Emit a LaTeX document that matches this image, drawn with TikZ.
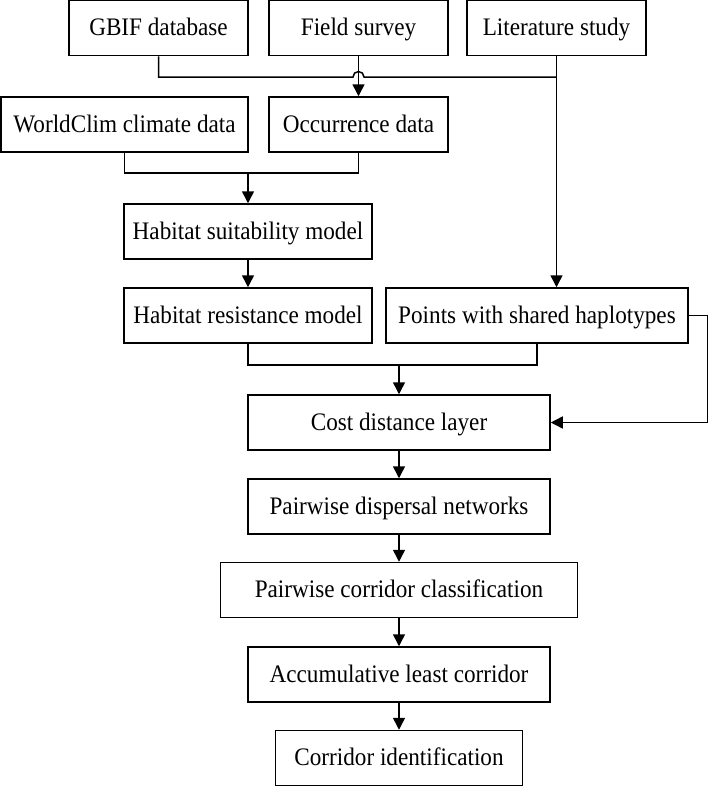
\documentclass[tikz,border=0pt]{standalone}
\usepackage{fontspec}
\setmainfont{Liberation Serif}[FakeStretch=0.92]
\usetikzlibrary{arrows.meta}
\begin{document}
\begin{tikzpicture}[x=1pt, y=-1pt, line width=1.5pt, line join=miter, >={Triangle[length=12pt,width=12pt]}]
	\tikzset{box/.style={draw, minimum height=55pt, inner sep=0pt, text height=15.5pt, text depth=0pt, font=\fontsize{25.2}{29}\selectfont}}
	\useasboundingbox (0,0) rectangle (709,787);
	% sources
	\node[box, minimum width=179pt] (gbif) at (158.5,28) {GBIF database};
	\node[box, minimum width=179pt] (field) at (358.5,28) {Field survey};
	\node[box, minimum width=179pt] (lit) at (556.5,28) {Literature study};
	\node[box, minimum width=247pt] (wc) at (124.5,124.5) {WorldClim climate data};
	\node[box, minimum width=179pt] (occ) at (358.5,124.5) {Occurrence data};
	% models
	\node[box, minimum width=248pt] (suit) at (248,231.5) {Habitat suitability model};
	\node[box, minimum width=248pt] (res) at (248,315.5) {Habitat resistance model};
	\node[box, minimum width=302pt] (pts) at (537,315.5) {Points with shared haplotypes};
	% corridor chain
	\node[box, minimum width=302pt] (cost) at (399,422.5) {Cost distance layer};
	\node[box, minimum width=302pt] (disp) at (399,506.5) {Pairwise dispersal networks};
	\node[box, minimum width=357pt] (cls) at (399,590) {Pairwise corridor classification};
	\node[box, minimum width=302pt] (acc) at (399,674.5) {Accumulative least corridor};
	\node[box, minimum width=247pt] (cid) at (399,758) {Corridor identification};
	\coordinate (rt) at (707.5,0);
	% connectors
	\draw (gbif.south) |- ([xshift=-5.5pt]field.south |- 0,77) arc[start angle=180, end angle=0, radius=5.5pt] -- (lit.south |- 0,77);
	\draw[->] (field) -- (occ);
	\draw[->] (lit) -- (lit.south |- pts.north);
	\draw (wc.south) -- ++(0,20) -| (occ.south);
	\draw[->] (suit.north |- 0,172) -- (suit.north);
	\draw[->] (suit) -- (res);
	\draw (res.south) -- ++(0,21) -| (pts.south);
	\draw[->] (cost.north |- 0,364) -- (cost.north);
	\draw[->] (pts.east) -- (pts.east -| rt) |- (cost.east);
	\draw[->] (cost) -- (disp);
	\draw[->] (disp) -- (cls);
	\draw[->] (cls) -- (acc);
	\draw[->] (acc) -- (cid);
\end{tikzpicture}
\end{document}
